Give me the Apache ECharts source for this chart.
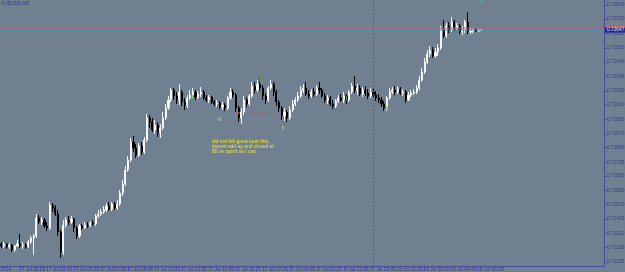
<!DOCTYPE html>
<html><head><meta charset="utf-8">
<script src="https://cdn.jsdelivr.net/npm/echarts@6/dist/echarts.min.js"></script>
<style>html,body{margin:0;padding:0;background:#708090;overflow:hidden}#c{width:625px;height:272px}</style>
</head><body><div id="c"></div>
<script>
const symbolName = 'AUDUSD,M5';
const firstDateLabel = '7 Jul 2016';
const startTime = '2016-07-07T00:55:00Z';
const barMinutes = 10;
const categoryCount = 224;
const xTickLabels = ['7 Jul 02:05','7 Jul 03:45','7 Jul 05:25','7 Jul 07:05','7 Jul 08:45','7 Jul 10:25','7 Jul 12:05','7 Jul 13:45','7 Jul 15:25','7 Jul 17:05','7 Jul 18:45','7 Jul 20:25','7 Jul 22:05','7 Jul 23:45','8 Jul 01:25','8 Jul 03:05','8 Jul 04:45','8 Jul 06:25'];
const yTickLabels = ['0.72810','0.72720','0.72625','0.72530','0.72440','0.72345','0.72250','0.72160','0.72065','0.71970','0.71880','0.71785','0.71695','0.71600','0.71510','0.71415','0.71320','0.71230','0.71135'];
const yMin = 0.71109, yMax = 0.72843;
const bidPrice = 0.72647, askPrice = 0.72660;
const daySeparator = '7 Jul 23:55';
// candles in points (price * 1e5): [open, close, low, high]
const candles = [
[71253,71240,71227,71266],[71240,71253,71227,71266],[71253,71233,71220,71259],[71233,71246,71220,71259],
[71246,71214,71200,71253],[71214,71240,71200,71246],[71240,71253,71233,71279],[71253,71240,71227,71318],
[71240,71246,71220,71266],[71246,71233,71220,71259],[71233,71266,71227,71279],[71266,71292,71253,71305],
[71292,71305,71180,71318],[71305,71422,71292,71448],[71422,71396,71383,71441],[71396,71409,71376,71428],
[71409,71370,71357,71422],[71370,71357,71337,71396],[71357,71506,71344,71526],[71506,71487,71461,71519],
[71487,71448,71435,71506],[71448,71331,71305,71474],[71331,71200,71161,71344],[71200,71376,71180,71409],
[71376,71409,71357,71428],[71409,71396,71376,71435],[71396,71415,71383,71435],[71415,71357,71331,71422],
[71357,71305,71285,71370],[71305,71370,71292,71383],[71370,71357,71344,71383],[71357,71376,71350,71396],
[71376,71370,71357,71396],[71370,71389,71363,71402],[71389,71383,71370,71409],[71383,71435,71370,71448],
[71435,71448,71422,71474],[71448,71461,71435,71480],[71461,71474,71448,71500],[71474,71500,71461,71519],
[71500,71480,71467,71526],[71480,71513,71467,71526],[71513,71487,71474,71526],[71487,71513,71474,71539],
[71513,71585,71500,71605],[71585,71644,71565,71670],[71644,71735,71631,71761],[71735,71800,71722,71826],
[71800,71917,71787,71944],[71917,71878,71852,71957],[71878,71832,71813,71904],[71832,71891,71819,71910],
[71891,71852,71832,71917],[71852,71930,71839,71950],[71930,72074,71917,72100],[72074,72048,72009,72093],
[72048,71996,71983,72074],[71996,72028,71970,72061],[72028,71976,71950,72048],[71976,72009,71944,72035],
[72009,72074,71996,72113],[72074,72139,72061,72165],[72139,72191,72126,72217],[72191,72256,72178,72269],
[72256,72217,72191,72269],[72217,72191,72165,72243],[72191,72243,72158,72295],[72243,72178,72152,72256],
[72178,72158,72126,72204],[72158,72204,72139,72223],[72204,72223,72191,72256],[72223,72243,72204,72269],
[72243,72210,72191,72256],[72210,72230,72197,72249],[72230,72243,72210,72275],[72243,72204,72191,72256],
[72204,72191,72178,72223],[72191,72210,72171,72223],[72210,72178,72165,72217],[72178,72165,72152,72191],
[72165,72171,72145,72191],[72171,72145,72132,72184],[72145,72158,72126,72178],[72158,72139,72119,72171],
[72139,72204,72126,72217],[72204,72243,72191,72269],[72243,72223,72204,72262],[72223,72139,72113,72236],
[72139,72074,72048,72152],[72074,72113,72035,72139],[72113,72191,72093,72217],[72191,72165,72145,72210],
[72165,72217,72152,72230],[72217,72282,72204,72309],[72282,72256,72236,72309],[72256,72295,72243,72322],
[72295,72269,72249,72335],[72269,72217,72191,72288],[72217,72191,72165,72236],[72191,72269,72178,72282],
[72269,72295,72256,72322],[72295,72243,72217,72309],[72243,72178,72152,72256],[72178,72139,72113,72191],
[72139,72087,72061,72152],[72087,72113,72054,72139],[72113,72074,72048,72126],[72074,72126,72061,72152],
[72126,72165,72113,72191],[72165,72191,72152,72210],[72191,72217,72178,72243],[72217,72256,72204,72282],
[72256,72269,72236,72295],[72269,72230,72217,72309],[72230,72217,72197,72256],[72217,72243,72204,72262],
[72243,72230,72210,72269],[72230,72269,72217,72288],[72269,72256,72230,72309],[72256,72217,72204,72269],
[72217,72191,72171,72236],[72191,72204,72165,72223],[72204,72165,72152,72217],[72165,72152,72132,72191],
[72152,72184,72139,72197],[72184,72204,72171,72223],[72204,72191,72178,72230],[72191,72217,72171,72243],
[72217,72191,72165,72230],[72191,72243,72178,72256],[72243,72282,72230,72302],[72282,72256,72236,72348],
[72256,72269,72223,72295],[72269,72230,72217,72288],[72230,72256,72210,72275],[72256,72236,72217,72282],
[72236,72217,72197,72262],[72217,72243,72204,72269],[72243,72223,72210,72269],[72223,72204,72184,72249],
[72204,72191,72171,72230],[72191,72165,72145,72210],[72165,72139,72119,72184],[72139,72204,72119,72217],
[72204,72243,72191,72269],[72243,72256,72230,72275],[72256,72243,72223,72282],[72243,72262,72230,72282],
[72262,72236,72223,72275],[72236,72243,72217,72262],[72243,72191,72171,72256],[72191,72223,72184,72243],
[72223,72236,72210,72256],[72236,72243,72223,72262],[72243,72269,72230,72288],[72269,72322,72256,72348],
[72322,72374,72309,72400],[72374,72439,72361,72465],[72439,72491,72426,72517],[72491,72517,72471,72543],
[72517,72478,72465,72536],[72478,72504,72465,72530],[72504,72530,72478,72556],[72530,72647,72517,72674],
[72647,72608,72595,72713],[72608,72674,72595,72693],[72674,72647,72627,72700],[72647,72700,72634,72733],
[72700,72660,72640,72713],[72660,72674,72647,72693],[72674,72634,72621,72687],[72634,72647,72614,72674],
[72647,72700,72627,72713],[72700,72634,72621,72765],[72634,72640,72621,72660],[72640,72647,72627,72660],
[72647,72640,72634,72660],[72640,72647,72634,72653],[72647,72647,72640,72653]
];
const tradeLine = [['7 Jul 15:35', 0.72106], ['7 Jul 18:15', 0.72087]];
const greenMarks = [['7 Jul 12:45', 0.72210], ['7 Jul 16:55', 0.72322], ['7 Jul 22:15', 0.72204], ['8 Jul 00:45', 0.72139]];
const topMark = [['8 Jul 06:35', 0.72837]];
const notes = [
  {at: ['7 Jul 14:15', 0.72080], text: '-6', color: '#d8d8a0'},
  {at: ['7 Jul 18:15', 0.72020], text: '5', color: '#e0d840'},
  {at: ['7 Jul 13:55', 0.71937], text: 'did not felt good bout this,\ndoesnt add up and closed at\nBE as quick as I can', color: '#f0e428'}
];

const FONT = '"Liberation Sans",Arial,sans-serif';
const AXIS = '#4a4a9c';
const TXT = '#3a3a88';
const categories = [];
const t0 = Date.parse(startTime);
for (let i = 0; i < categoryCount; i++) {
  const d = new Date(t0 + i * barMinutes * 60000);
  const hh = String(d.getUTCHours()).padStart(2, '0');
  const mm = String(d.getUTCMinutes()).padStart(2, '0');
  categories.push(d.getUTCDate() + ' Jul ' + hh + ':' + mm);
}
const showTick = (idx) => xTickLabels.indexOf(categories[idx]) >= 0;
const candleData = candles.map(r => r.map(v => v / 1e5));
const firstCat = categories[0], lastCat = categories[categoryCount - 1];

function priceAxis(values, label) {
  return {
    type: 'value', position: 'right', min: yMin, max: yMax,
    axisLine: {show: false}, axisTick: {show: false}, splitLine: {show: false},
    axisLabel: Object.assign({customValues: values, formatter: v => v.toFixed(5), fontSize: 4.8, fontFamily: FONT, margin: 1}, label)
  };
}

const chart = echarts.init(document.getElementById('c'), null, {renderer: 'canvas'});
chart.setOption({
  animation: false,
  backgroundColor: '#708090',
  grid: {left: 0, right: 21, top: 0, bottom: 6, containLabel: false, outerBoundsMode: 'none'},
  xAxis: {
    type: 'category', data: categories, boundaryGap: true,
    axisLine: {show: true, lineStyle: {color: AXIS, width: 1}},
    axisTick: {show: true, alignWithLabel: true, interval: showTick, length: 5, lineStyle: {color: AXIS}},
    axisLabel: {interval: showTick, hideOverlap: false, align: 'left', margin: 1, padding: [0, 0, 0, 1.5], fontSize: 4.8, color: TXT, fontFamily: FONT},
    splitLine: {show: false}
  },
  yAxis: [
    {
      type: 'value', position: 'right', min: yMin, max: yMax,
      axisLine: {show: true, lineStyle: {color: AXIS, width: 1}},
      axisTick: {show: true, length: 3, customValues: yTickLabels.map(Number), lineStyle: {color: AXIS}},
      axisLabel: {customValues: yTickLabels.map(Number), formatter: v => v.toFixed(5), margin: 3, fontSize: 4.8, color: TXT, fontFamily: FONT},
      splitLine: {show: false}
    },
    priceAxis([askPrice], {color: '#cc6458', backgroundColor: '#cc6458', padding: [0.5, 2, 0, 2], lineHeight: 4}),
    priceAxis([bidPrice], {color: '#e4e4ff', backgroundColor: '#2a2a96', padding: [0.3, 2, 0.3, 2], lineHeight: 4.6})
  ],
  graphic: [
    {type: 'text', left: 1, top: 1, style: {text: symbolName, fontSize: 4.8, fill: TXT, fontFamily: FONT}},
    {type: 'text', left: -11, top: 267.5, style: {text: firstDateLabel, fontSize: 4.8, fill: TXT, fontFamily: FONT}}
  ],
  series: [
    {
      type: 'candlestick', data: candleData, barWidth: 1.6,
      itemStyle: {color: '#ffffff', color0: '#000000', borderColor: '#f4f4f4', borderColor0: '#000000', borderWidth: 1},
      markLine: {
        symbol: 'none', silent: true,
        data: [{xAxis: daySeparator, lineStyle: {color: AXIS, type: [1, 2], width: 1}, label: {show: false}}]
      }
    },
    {type: 'line', data: [[firstCat, askPrice], [lastCat, askPrice]], symbol: 'none', lineStyle: {color: '#cc6458', width: 1}},
    {type: 'line', data: [[firstCat, bidPrice], [lastCat, bidPrice]], symbol: 'none', lineStyle: {color: '#2b9bd8', width: 1}},
    {type: 'line', data: tradeLine, symbol: 'none', lineStyle: {color: '#e03c3c', width: 1, type: [1, 2]}},
    {type: 'scatter', data: [tradeLine[0]], symbol: 'rect', symbolSize: 2, itemStyle: {color: '#ff3030'}},
    {type: 'scatter', data: greenMarks, symbol: 'rect', symbolSize: [1.4, 4], itemStyle: {color: '#66d030'}},
    {type: 'scatter', data: topMark, symbol: 'rect', symbolSize: [1.5, 2.5], itemStyle: {color: '#20c8f0'}},
    {type: 'scatter', symbolSize: 0,
      data: notes.map(n => ({value: n.at, label: {show: true, formatter: n.text, color: n.color, position: [0, 0], align: 'left', verticalAlign: 'top', fontSize: 4.6, lineHeight: 5.3, fontWeight: 'bold', fontFamily: FONT}}))}
  ]
});
</script></body></html>
